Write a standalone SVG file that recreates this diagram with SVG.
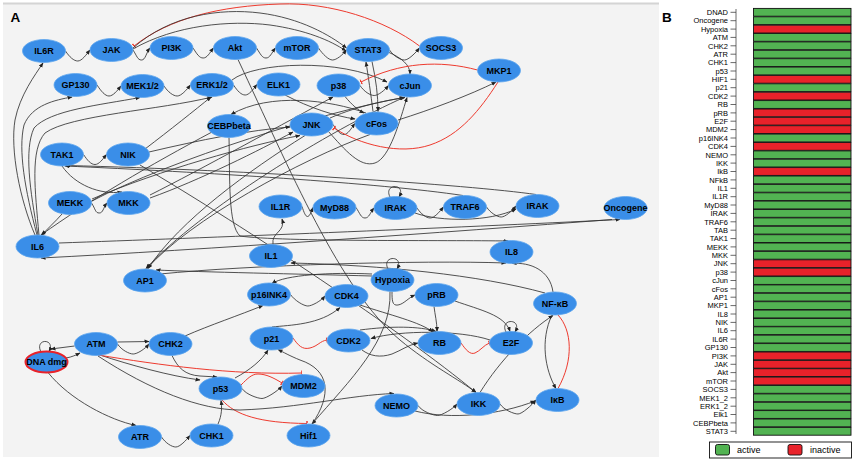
<svg xmlns="http://www.w3.org/2000/svg" width="856" height="461" viewBox="0 0 856 461">
<style>
.bg{fill:#f3f3f3}
.n ellipse{fill:#3a8ee8;stroke:#5ea6ee;stroke-width:0.8}
.n text{font-family:"Liberation Sans",Arial,sans-serif;font-weight:bold;font-size:9px;fill:#000;text-anchor:middle}
.e{fill:none;stroke:#333;stroke-width:0.85;marker-end:url(#a)}
.p{fill:none;stroke:#333;stroke-width:0.85}
.r{fill:none;stroke:#ee3a2e;stroke-width:1;marker-end:url(#t)}
.rp{fill:none;stroke:#ee3a2e;stroke-width:1}
.lab{font-family:"Liberation Sans",Arial,sans-serif;font-size:7.5px;fill:#000;text-anchor:end}
.g{fill:#52b352;stroke:#111;stroke-width:0.9}
.rd{fill:#e8222a;stroke:#111;stroke-width:0.9}
.tk{stroke:#444;stroke-width:0.8}
.hd{font-family:"Liberation Sans",Arial,sans-serif;font-weight:bold;font-size:13.5px;fill:#000}
</style>
<defs>
<marker id="a" viewBox="0 0 10 10" refX="9" refY="5" markerWidth="5" markerHeight="5" orient="auto" markerUnits="userSpaceOnUse"><path d="M0,1 L10,5 L0,9 z" fill="#222"/></marker>
<marker id="t" viewBox="0 0 4 10" refX="3" refY="5" markerWidth="2" markerHeight="6" orient="auto" markerUnits="userSpaceOnUse"><path d="M3,0 V10" stroke="#ee3a2e" stroke-width="3"/></marker>
</defs>
<rect x="0" y="0" width="856" height="461" fill="#fff"/>
<rect class="bg" x="3" y="3" width="656" height="454"/>
<rect x="3" y="2.5" width="656" height="2" fill="#d4d4d4"/>
<text class="hd" x="10.5" y="21.5">A</text>
<text class="hd" x="662" y="21.5">B</text>

<g id="connectors">
<!-- squiggle chains -->
<path class="e" d="M65.5,51 C69.5,57 73.8,61 77.8,61 C81.8,61 86,55 90,50"/>
<path class="e" d="M133,50 C137,56 137.5,60 141.5,60 C145.5,60 146,53 150,48"/>
<path class="e" d="M193,48 C197,54 199.2,58 203.2,58 C207.2,58 209.5,53 213.5,48"/>
<path class="e" d="M256.5,48 C260.5,54 262,58 266,58 C270,58 271.5,53 275.5,48"/>
<path class="e" d="M318.5,48 C322.5,54 328.5,60 332.5,60 C336.5,60 342.5,55 346.5,50"/>
<path class="e" d="M389.5,50 C393.5,56 400.5,60 404.5,60 C408.5,60 415.5,53 419.5,48"/>
<path class="e" d="M97,85 C101,91 105,96 109,96 C113,96 117,91 121,86"/>
<path class="e" d="M164,86 C168,92 173.2,96 177.2,96 C181.2,96 186.5,90 190.5,85"/>
<path class="e" d="M233.5,85 C237.5,91 241.2,95 245.2,95 C249.2,95 253,89.5 257,84.5"/>
<path class="e" d="M360,85.5 C364,91.5 370.2,95.5 374.2,95.5 C378.2,95.5 384.5,90.5 388.5,85.5"/>
<path class="e" d="M333,124.5 C337,130.5 340,134.5 344,134.5 C348,134.5 351,128.5 355,123.5"/>
<path class="e" d="M83.5,154.5 C87.5,160.5 91,164.5 95,164.5 C99,164.5 102.5,159.5 106.5,154.5"/>
<path class="e" d="M91.5,203 C95.5,209 95.2,213 99.2,213 C103.2,213 103,208 107,203"/>
<path class="e" d="M302,206.5 C304,212.5 305.5,216.5 307.5,216.5 C309.5,216.5 311,212.5 313,207.5"/>
<path class="e" d="M356,207.5 C360,213.5 361,218 365,218 C369,218 370,213 374,208"/>
<path class="e" d="M417,208 C421,214 426.2,218 430.2,218 C434.2,218 439.5,212 443.5,207"/>
<path class="e" d="M486.5,207 C490.5,213 497.2,217 501.2,217 C505.2,217 512,211 516,206"/>
<path class="e" d="M117.5,344 C121.5,350 129.2,354 133.2,354 C137.2,354 145,349 149,344"/>
<path class="e" d="M117.5,342 L149,341.5"/>
<path class="e" d="M161.5,437 C165.5,443 171.8,447 175.8,447 C179.8,447 186,440.5 190,435.5"/>
<path class="e" d="M242,388.5 C246,394.5 258,398.5 262,398.5 C266,398.5 278,391 282,386"/>
<path class="e" d="M500,404 C504,410 514,414 518,414 C522,414 532,405 536,400"/>
<path class="e" d="M418,405.5 C422,411.5 433.5,415.5 437.5,415.5 C441.5,415.5 453,409 457,404"/>
<path class="e" d="M290.5,294.5 C294.5,300.5 303.8,306 307.8,306 C311.8,306 321,301 325,296"/>
<path class="e" d="M392,291.5 C392,300 392,306 398,305 C404,304 408,298 415,295"/>
<path class="e" d="M362,350 C370,356 380,358 392,354 C402,350 408,345 418,343"/>
<path class="r" d="M461,343 C466,350 470,355 475,353 C480,351 484,345 489.5,343"/>
<path class="r" d="M293,338 C298,345 302,350 310,348 C318,346 320,341 327,340"/>
<!-- self loops -->
<path class="e" d="M41,352 C34,338 56,338 49,351.5"/>
<path class="e" d="M506,332 C499,318 523,318 515,332"/>
<path class="e" d="M388,269 C381,255 405,255 397,269"/>
<path class="e" d="M390,197 C383,183 407,183 399,197"/>
<!-- top arcs -->
<path class="r" d="M419.5,46 C385,20 330,2 280,4 C220,6 170,18 134,46"/>
<path class="e" d="M133,48 C170,15 220,8 260,13 C300,18 330,35 346.5,48"/>
<path class="e" d="M133,49 C175,25 230,20 270,25 C305,30 330,40 346,51"/>
<path class="e" d="M232,80 C255,62 340,58 387,82"/>
<path class="e" d="M373,111.5 C371,95 368,75 366,62"/>
<path class="e" d="M372,61.5 C376,80 378,95 378,111.5"/>
<path class="e" d="M388,52 C402,58 410,65 410,74"/>
<path class="e" d="M345,96.5 C352,105 358,110 364,113"/>
<path class="e" d="M285,95 C310,108 335,116 355,119"/>
<path class="e" d="M366,113 C330,100 270,92 231,114.5"/>
<path class="e" d="M330,118 C360,105 390,100 405,97.5"/>
<path class="e" d="M328,131 C345,150 360,168 375,163 C390,158 400,120 407,97.5"/>
<path class="r" d="M477.5,70 C440,60 400,62 361,82"/>
<path class="r" d="M498,82 C480,110 460,135 430,145 C400,155 360,145 334,128"/>
<path class="e" d="M398,120 C430,110 470,95 496,82"/>
<!-- IL6 fan -->
<path class="e" d="M35,235 C20,200 10,150 15,120 C20,95 35,75 43,63"/>
<path class="e" d="M37,235 C25,190 18,150 24,125 C32,105 55,100 72,97"/>
<path class="e" d="M38,235 C30,190 24,150 34,128 C50,110 100,105 140,97.5"/>
<path class="e" d="M39,235 C35,190 30,150 45,133 C70,115 160,110 212,97"/>
<path class="e" d="M212,132 C150,165 90,200 41,235"/>
<path class="e" d="M62,214 C55,222 47,229 42,235"/>
<!-- NIK / TAK1 / MEKK / MKK -->
<path class="e" d="M145,149 C170,130 195,110 211,97"/>
<path class="e" d="M62,166 C75,185 100,195 122,192"/>
<path class="e" d="M463,195.5 C380,183 200,172 65,166"/>
<path class="e" d="M536,194.5 C470,185 250,170 66,165.5"/>
<path class="e" d="M92,199 C160,170 250,145 300,135.5"/>
<path class="e" d="M150,195 C200,170 290,120 333,97"/>
<path class="e" d="M150,198 C200,180 260,150 293,132"/>
<path class="e" d="M92,201 C170,160 330,110 404,97.5"/>
<path class="e" d="M149,152 C200,140 250,130 290,127"/>
<path class="e" d="M140,165 C250,230 400,330 476,392.5"/>
<path class="e" d="M238,59.5 C290,170 340,290 400,340 C430,365 460,380 476,392.5"/>
<path class="e" d="M415,213 C440,222 490,222 516,209"/>
<!-- AP1 -->
<path class="e" d="M405,97 C330,130 200,210 146,268.5"/>
<path class="e" d="M370,134.5 C300,160 190,220 147,268.5"/>
<path class="e" d="M305,135.5 C250,170 180,220 148,268.5"/>
<path class="e" d="M372,276 C300,274 200,272 156,270"/>
<path class="e" d="M160,274 C250,265 420,260 506,263"/>
<!-- cytokines -->
<path class="e" d="M229,137.5 C230,180 228,225 240,236 C280,242 450,240 508,241"/>
<path class="e" d="M59,243 C200,238 450,228 620,219.5"/>
<path class="e" d="M612,219.5 C450,232 200,250 41,258"/>
<path class="e" d="M553,292 C550,270 530,262 512,263.5"/>
<path class="e" d="M545,293 C480,275 380,265 291,263"/>
<path class="e" d="M273,244.5 C271,232 286,232 282,219"/>
<!-- hypoxia / cell cycle -->
<path class="e" d="M390,291.5 C392,340 350,380 312,424"/>
<path class="e" d="M372,274 C330,272 285,275 272,283.5"/>
<path class="e" d="M434,306.5 C435,315 437,322 437,331.5"/>
<path class="e" d="M360,330 C390,326 420,326 436,331.5"/>
<path class="e" d="M490,340 C460,330 400,330 371,338.5"/>
<path class="e" d="M455,301 C480,310 505,315 510,331.5"/>
<path class="e" d="M360,305 C390,315 420,322 433,332"/>
<path class="e" d="M272,327 C290,325 320,325 340,307.5"/>
<path class="e" d="M185,336 C210,325 240,315 263,305.5"/>
<!-- NF-kB module -->
<path class="e" d="M480,392.5 C500,360 530,330 553,315.5"/>
<path class="e" d="M552,315 C540,340 545,370 556,388.5"/>
<path class="rp" d="M558,388.5 C574,360 572,330 558,315"/>
<path class="e" d="M415,411 C450,420 500,415 535,401"/>
<!-- DNA damage module -->
<path class="e" d="M48,372.5 C70,400 110,420 136,425.5"/>
<path class="e" d="M66,358 C72,357 76,355 80,353"/>
<path class="e" d="M74.5,346 L51,349"/>
<path class="e" d="M218,424 C222,415 222,407 221,400.5"/>
<path class="e" d="M172,355.5 C178,368 185,375 200,376 L217,377"/>
<path class="e" d="M100,355 C130,365 170,376 200,380"/>
<path class="r" d="M98,355 C160,365 230,375 302,373"/>
<path class="r" d="M241,385 C248,378 252,374 258,374 C266,374 274,378 282,383"/>
<path class="r" d="M222,400 C235,415 260,423 307,423.5"/>
<path class="e" d="M98,356 C150,390 200,410 240,410 C300,408 350,395 394,393.5"/>
<path class="e" d="M235,378 C250,370 262,360 268,350"/>
<path class="e" d="M312,424 C332,395 330,370 300,360 C290,356 283,352 278,349.5"/>
</g>

<g id="n-IL6R" class="n"><ellipse cx="44" cy="51" rx="21.5" ry="11.5"/><text x="44" y="54.2">IL6R</text></g>
<g id="n-JAK" class="n"><ellipse cx="111.5" cy="50" rx="21.5" ry="11.5"/><text x="111.5" y="53.2">JAK</text></g>
<g id="n-PI3K" class="n"><ellipse cx="171.5" cy="48" rx="21.5" ry="11.5"/><text x="171.5" y="51.2">PI3K</text></g>
<g id="n-Akt" class="n"><ellipse cx="235" cy="48" rx="21.5" ry="11.5"/><text x="235" y="51.2">Akt</text></g>
<g id="n-mTOR" class="n"><ellipse cx="297" cy="48" rx="21.5" ry="11.5"/><text x="297" y="51.2">mTOR</text></g>
<g id="n-STAT3" class="n"><ellipse cx="368" cy="50" rx="21.5" ry="11.5"/><text x="368" y="53.2">STAT3</text></g>
<g id="n-SOCS3" class="n"><ellipse cx="441" cy="48" rx="21.5" ry="11.5"/><text x="441" y="51.2">SOCS3</text></g>
<g id="n-MKP1" class="n"><ellipse cx="499" cy="70.5" rx="21.5" ry="11.5"/><text x="499" y="73.7">MKP1</text></g>
<g id="n-GP130" class="n"><ellipse cx="75.5" cy="85" rx="21.5" ry="11.5"/><text x="75.5" y="88.2">GP130</text></g>
<g id="n-MEK12" class="n"><ellipse cx="142.5" cy="86" rx="21.5" ry="11.5"/><text x="142.5" y="89.2">MEK1/2</text></g>
<g id="n-ERK12" class="n"><ellipse cx="212" cy="85" rx="21.5" ry="11.5"/><text x="212" y="88.2">ERK1/2</text></g>
<g id="n-ELK1" class="n"><ellipse cx="278.5" cy="84.5" rx="21.5" ry="11.5"/><text x="278.5" y="87.7">ELK1</text></g>
<g id="n-p38" class="n"><ellipse cx="338.5" cy="85.5" rx="21.5" ry="11.5"/><text x="338.5" y="88.7">p38</text></g>
<g id="n-cJun" class="n"><ellipse cx="410" cy="85.5" rx="21.5" ry="11.5"/><text x="410" y="88.7">cJun</text></g>
<g id="n-CEBPbeta" class="n"><ellipse cx="229" cy="126" rx="21.5" ry="11.5"/><text x="229" y="129.2">CEBPbeta</text></g>
<g id="n-JNK" class="n"><ellipse cx="311.5" cy="124.5" rx="21.5" ry="11.5"/><text x="311.5" y="127.7">JNK</text></g>
<g id="n-cFos" class="n"><ellipse cx="376.5" cy="123.5" rx="21.5" ry="11.5"/><text x="376.5" y="126.7">cFos</text></g>
<g id="n-TAK1" class="n"><ellipse cx="62" cy="154.5" rx="21.5" ry="11.5"/><text x="62" y="157.7">TAK1</text></g>
<g id="n-NIK" class="n"><ellipse cx="128" cy="154.5" rx="21.5" ry="11.5"/><text x="128" y="157.7">NIK</text></g>
<g id="n-MEKK" class="n"><ellipse cx="70" cy="203" rx="21.5" ry="11.5"/><text x="70" y="206.2">MEKK</text></g>
<g id="n-MKK" class="n"><ellipse cx="128.5" cy="203" rx="21.5" ry="11.5"/><text x="128.5" y="206.2">MKK</text></g>
<g id="n-IL6" class="n"><ellipse cx="37.5" cy="246.5" rx="21.5" ry="11.5"/><text x="37.5" y="249.7">IL6</text></g>
<g id="n-AP1" class="n"><ellipse cx="145" cy="280.5" rx="21.5" ry="11.5"/><text x="145" y="283.7">AP1</text></g>
<g id="n-IL1R" class="n"><ellipse cx="280.5" cy="206.5" rx="21.5" ry="11.5"/><text x="280.5" y="209.7">IL1R</text></g>
<g id="n-MyD88" class="n"><ellipse cx="334.5" cy="207.5" rx="21.5" ry="11.5"/><text x="334.5" y="210.7">MyD88</text></g>
<g id="n-IRAK1" class="n"><ellipse cx="395.5" cy="208" rx="21.5" ry="11.5"/><text x="395.5" y="211.2">IRAK</text></g>
<g id="n-TRAF6" class="n"><ellipse cx="465" cy="207" rx="21.5" ry="11.5"/><text x="465" y="210.2">TRAF6</text></g>
<g id="n-IRAK2" class="n"><ellipse cx="537.5" cy="206" rx="21.5" ry="11.5"/><text x="537.5" y="209.2">IRAK</text></g>
<g id="n-Oncogene" class="n"><ellipse cx="625.5" cy="208" rx="21.5" ry="11.5"/><text x="625.5" y="211.2">Oncogene</text></g>
<g id="n-IL1" class="n"><ellipse cx="271" cy="256" rx="21.5" ry="11.5"/><text x="271" y="259.2">IL1</text></g>
<g id="n-IL8" class="n"><ellipse cx="511.5" cy="252" rx="21.5" ry="11.5"/><text x="511.5" y="255.2">IL8</text></g>
<g id="n-Hypoxia" class="n"><ellipse cx="392.5" cy="280" rx="21.5" ry="11.5"/><text x="392.5" y="283.2">Hypoxia</text></g>
<g id="n-p16INK4" class="n"><ellipse cx="269" cy="294.5" rx="21.5" ry="11.5"/><text x="269" y="297.7">p16INK4</text></g>
<g id="n-CDK4" class="n"><ellipse cx="346.5" cy="296" rx="21.5" ry="11.5"/><text x="346.5" y="299.2">CDK4</text></g>
<g id="n-pRB" class="n"><ellipse cx="436.5" cy="295" rx="21.5" ry="11.5"/><text x="436.5" y="298.2">pRB</text></g>
<g id="n-NFkB" class="n"><ellipse cx="555" cy="303.5" rx="21.5" ry="11.5"/><text x="555" y="306.7">NF-κB</text></g>
<g id="n-E2F" class="n"><ellipse cx="511" cy="343" rx="21.5" ry="11.5"/><text x="511" y="346.2">E2F</text></g>
<g id="n-RB" class="n"><ellipse cx="439.5" cy="343" rx="21.5" ry="11.5"/><text x="439.5" y="346.2">RB</text></g>
<g id="n-CDK2" class="n"><ellipse cx="348.5" cy="340.5" rx="21.5" ry="11.5"/><text x="348.5" y="343.7">CDK2</text></g>
<g id="n-p21" class="n"><ellipse cx="271.5" cy="338.5" rx="21.5" ry="11.5"/><text x="271.5" y="341.7">p21</text></g>
<g id="n-MDM2" class="n"><ellipse cx="303.5" cy="386" rx="21.5" ry="11.5"/><text x="303.5" y="389.2">MDM2</text></g>
<g id="n-p53" class="n"><ellipse cx="220.5" cy="388.5" rx="21.5" ry="11.5"/><text x="220.5" y="391.7">p53</text></g>
<g id="n-NEMO" class="n"><ellipse cx="396.5" cy="405.5" rx="21.5" ry="11.5"/><text x="396.5" y="408.7">NEMO</text></g>
<g id="n-IKK" class="n"><ellipse cx="478.5" cy="404" rx="21.5" ry="11.5"/><text x="478.5" y="407.2">IKK</text></g>
<g id="n-IkB" class="n"><ellipse cx="557.5" cy="400" rx="21.5" ry="11.5"/><text x="557.5" y="403.2">IκB</text></g>
<g id="n-Hif1" class="n"><ellipse cx="308.5" cy="435.5" rx="21.5" ry="11.5"/><text x="308.5" y="438.7">Hif1</text></g>
<g id="n-ATM" class="n"><ellipse cx="96" cy="344" rx="21.5" ry="11.5"/><text x="96" y="347.2">ATM</text></g>
<g id="n-CHK2" class="n"><ellipse cx="170.5" cy="344" rx="21.5" ry="11.5"/><text x="170.5" y="347.2">CHK2</text></g>
<g id="n-DNAdmg" class="n"><ellipse cx="46.5" cy="362" rx="21" ry="10.5" style="stroke:#e8222a;stroke-width:2"/><text x="46.5" y="365.2">DNA dmg</text></g>
<g id="n-ATR" class="n"><ellipse cx="140" cy="437" rx="21.5" ry="11.5"/><text x="140" y="440.2">ATR</text></g>
<g id="n-CHK1" class="n"><ellipse cx="211.5" cy="435.5" rx="21.5" ry="11.5"/><text x="211.5" y="438.7">CHK1</text></g>

<g id="panelB">
<line class="tk" x1="736" y1="9" x2="736" y2="434"/>
<g id="bars">
<rect class="g" x="753.5" y="8.4" width="97.5" height="7.8"/>
<rect class="g" x="753.5" y="16.8" width="97.5" height="7.8"/>
<rect class="rd" x="753.5" y="25.2" width="97.5" height="7.8"/>
<rect class="g" x="753.5" y="33.5" width="97.5" height="7.8"/>
<rect class="g" x="753.5" y="41.9" width="97.5" height="7.8"/>
<rect class="g" x="753.5" y="50.3" width="97.5" height="7.8"/>
<rect class="g" x="753.5" y="58.7" width="97.5" height="7.8"/>
<rect class="g" x="753.5" y="67.1" width="97.5" height="7.8"/>
<rect class="rd" x="753.5" y="75.4" width="97.5" height="7.8"/>
<rect class="g" x="753.5" y="83.8" width="97.5" height="7.8"/>
<rect class="rd" x="753.5" y="92.2" width="97.5" height="7.8"/>
<rect class="g" x="753.5" y="100.6" width="97.5" height="7.8"/>
<rect class="rd" x="753.5" y="109" width="97.5" height="7.8"/>
<rect class="rd" x="753.5" y="117.3" width="97.5" height="7.8"/>
<rect class="rd" x="753.5" y="125.7" width="97.5" height="7.8"/>
<rect class="g" x="753.5" y="134.1" width="97.5" height="7.8"/>
<rect class="rd" x="753.5" y="142.5" width="97.5" height="7.8"/>
<rect class="g" x="753.5" y="150.9" width="97.5" height="7.8"/>
<rect class="g" x="753.5" y="159.2" width="97.5" height="7.8"/>
<rect class="rd" x="753.5" y="167.6" width="97.5" height="7.8"/>
<rect class="g" x="753.5" y="176" width="97.5" height="7.8"/>
<rect class="g" x="753.5" y="184.4" width="97.5" height="7.8"/>
<rect class="g" x="753.5" y="192.8" width="97.5" height="7.8"/>
<rect class="g" x="753.5" y="201.1" width="97.5" height="7.8"/>
<rect class="g" x="753.5" y="209.5" width="97.5" height="7.8"/>
<rect class="g" x="753.5" y="217.9" width="97.5" height="7.8"/>
<rect class="g" x="753.5" y="226.3" width="97.5" height="7.8"/>
<rect class="g" x="753.5" y="234.7" width="97.5" height="7.8"/>
<rect class="g" x="753.5" y="243" width="97.5" height="7.8"/>
<rect class="g" x="753.5" y="251.4" width="97.5" height="7.8"/>
<rect class="rd" x="753.5" y="259.8" width="97.5" height="7.8"/>
<rect class="rd" x="753.5" y="268.2" width="97.5" height="7.8"/>
<rect class="g" x="753.5" y="276.6" width="97.5" height="7.8"/>
<rect class="g" x="753.5" y="284.9" width="97.5" height="7.8"/>
<rect class="g" x="753.5" y="293.3" width="97.5" height="7.8"/>
<rect class="g" x="753.5" y="301.7" width="97.5" height="7.8"/>
<rect class="g" x="753.5" y="310.1" width="97.5" height="7.8"/>
<rect class="g" x="753.5" y="318.5" width="97.5" height="7.8"/>
<rect class="g" x="753.5" y="326.8" width="97.5" height="7.8"/>
<rect class="g" x="753.5" y="335.2" width="97.5" height="7.8"/>
<rect class="g" x="753.5" y="343.6" width="97.5" height="7.8"/>
<rect class="rd" x="753.5" y="352" width="97.5" height="7.8"/>
<rect class="rd" x="753.5" y="360.4" width="97.5" height="7.8"/>
<rect class="rd" x="753.5" y="368.7" width="97.5" height="7.8"/>
<rect class="rd" x="753.5" y="377.1" width="97.5" height="7.8"/>
<rect class="g" x="753.5" y="385.5" width="97.5" height="7.8"/>
<rect class="g" x="753.5" y="393.9" width="97.5" height="7.8"/>
<rect class="g" x="753.5" y="402.3" width="97.5" height="7.8"/>
<rect class="g" x="753.5" y="410.6" width="97.5" height="7.8"/>
<rect class="g" x="753.5" y="419" width="97.5" height="7.8"/>
<rect class="g" x="753.5" y="427.4" width="97.5" height="7.8"/>
</g>
<g id="ticks" class="tk">
<line x1="730.5" y1="12.3" x2="736" y2="12.3"/><line x1="730.5" y1="20.7" x2="736" y2="20.7"/><line x1="730.5" y1="29.1" x2="736" y2="29.1"/><line x1="730.5" y1="37.4" x2="736" y2="37.4"/><line x1="730.5" y1="45.8" x2="736" y2="45.8"/><line x1="730.5" y1="54.2" x2="736" y2="54.2"/><line x1="730.5" y1="62.6" x2="736" y2="62.6"/><line x1="730.5" y1="71" x2="736" y2="71"/><line x1="730.5" y1="79.3" x2="736" y2="79.3"/><line x1="730.5" y1="87.7" x2="736" y2="87.7"/><line x1="730.5" y1="96.1" x2="736" y2="96.1"/><line x1="730.5" y1="104.5" x2="736" y2="104.5"/><line x1="730.5" y1="112.9" x2="736" y2="112.9"/><line x1="730.5" y1="121.2" x2="736" y2="121.2"/><line x1="730.5" y1="129.6" x2="736" y2="129.6"/><line x1="730.5" y1="138" x2="736" y2="138"/><line x1="730.5" y1="146.4" x2="736" y2="146.4"/><line x1="730.5" y1="154.8" x2="736" y2="154.8"/><line x1="730.5" y1="163.1" x2="736" y2="163.1"/><line x1="730.5" y1="171.5" x2="736" y2="171.5"/><line x1="730.5" y1="179.9" x2="736" y2="179.9"/><line x1="730.5" y1="188.3" x2="736" y2="188.3"/><line x1="730.5" y1="196.7" x2="736" y2="196.7"/><line x1="730.5" y1="205" x2="736" y2="205"/><line x1="730.5" y1="213.4" x2="736" y2="213.4"/><line x1="730.5" y1="221.8" x2="736" y2="221.8"/><line x1="730.5" y1="230.2" x2="736" y2="230.2"/><line x1="730.5" y1="238.6" x2="736" y2="238.6"/><line x1="730.5" y1="246.9" x2="736" y2="246.9"/><line x1="730.5" y1="255.3" x2="736" y2="255.3"/><line x1="730.5" y1="263.7" x2="736" y2="263.7"/><line x1="730.5" y1="272.1" x2="736" y2="272.1"/><line x1="730.5" y1="280.5" x2="736" y2="280.5"/><line x1="730.5" y1="288.8" x2="736" y2="288.8"/><line x1="730.5" y1="297.2" x2="736" y2="297.2"/><line x1="730.5" y1="305.6" x2="736" y2="305.6"/><line x1="730.5" y1="314" x2="736" y2="314"/><line x1="730.5" y1="322.4" x2="736" y2="322.4"/><line x1="730.5" y1="330.7" x2="736" y2="330.7"/><line x1="730.5" y1="339.1" x2="736" y2="339.1"/><line x1="730.5" y1="347.5" x2="736" y2="347.5"/><line x1="730.5" y1="355.9" x2="736" y2="355.9"/><line x1="730.5" y1="364.3" x2="736" y2="364.3"/><line x1="730.5" y1="372.6" x2="736" y2="372.6"/><line x1="730.5" y1="381" x2="736" y2="381"/><line x1="730.5" y1="389.4" x2="736" y2="389.4"/><line x1="730.5" y1="397.8" x2="736" y2="397.8"/><line x1="730.5" y1="406.2" x2="736" y2="406.2"/><line x1="730.5" y1="414.5" x2="736" y2="414.5"/><line x1="730.5" y1="422.9" x2="736" y2="422.9"/><line x1="730.5" y1="431.3" x2="736" y2="431.3"/>
</g>
<g id="labels">
<text class="lab" x="728" y="15">DNAD</text>
<text class="lab" x="728" y="23.4">Oncogene</text>
<text class="lab" x="728" y="31.8">Hypoxia</text>
<text class="lab" x="728" y="40.1">ATM</text>
<text class="lab" x="728" y="48.5">CHK2</text>
<text class="lab" x="728" y="56.9">ATR</text>
<text class="lab" x="728" y="65.3">CHK1</text>
<text class="lab" x="728" y="73.7">p53</text>
<text class="lab" x="728" y="82">HIF1</text>
<text class="lab" x="728" y="90.4">p21</text>
<text class="lab" x="728" y="98.8">CDK2</text>
<text class="lab" x="728" y="107.2">RB</text>
<text class="lab" x="728" y="115.6">pRB</text>
<text class="lab" x="728" y="123.9">E2F</text>
<text class="lab" x="728" y="132.3">MDM2</text>
<text class="lab" x="728" y="140.7">p16INK4</text>
<text class="lab" x="728" y="149.1">CDK4</text>
<text class="lab" x="728" y="157.5">NEMO</text>
<text class="lab" x="728" y="165.8">IKK</text>
<text class="lab" x="728" y="174.2">IkB</text>
<text class="lab" x="728" y="182.6">NFkB</text>
<text class="lab" x="728" y="191">IL1</text>
<text class="lab" x="728" y="199.4">IL1R</text>
<text class="lab" x="728" y="207.7">MyD88</text>
<text class="lab" x="728" y="216.1">IRAK</text>
<text class="lab" x="728" y="224.5">TRAF6</text>
<text class="lab" x="728" y="232.9">TAB</text>
<text class="lab" x="728" y="241.3">TAK1</text>
<text class="lab" x="728" y="249.6">MEKK</text>
<text class="lab" x="728" y="258">MKK</text>
<text class="lab" x="728" y="266.4">JNK</text>
<text class="lab" x="728" y="274.8">p38</text>
<text class="lab" x="728" y="283.2">cJun</text>
<text class="lab" x="728" y="291.5">cFos</text>
<text class="lab" x="728" y="299.9">AP1</text>
<text class="lab" x="728" y="308.3">MKP1</text>
<text class="lab" x="728" y="316.7">IL8</text>
<text class="lab" x="728" y="325.1">NIK</text>
<text class="lab" x="728" y="333.4">IL6</text>
<text class="lab" x="728" y="341.8">IL6R</text>
<text class="lab" x="728" y="350.2">GP130</text>
<text class="lab" x="728" y="358.6">PI3K</text>
<text class="lab" x="728" y="367">JAK</text>
<text class="lab" x="728" y="375.3">Akt</text>
<text class="lab" x="728" y="383.7">mTOR</text>
<text class="lab" x="728" y="392.1">SOCS3</text>
<text class="lab" x="728" y="400.5">MEK1_2</text>
<text class="lab" x="728" y="408.9">ERK1_2</text>
<text class="lab" x="728" y="417.2">Elk1</text>
<text class="lab" x="728" y="425.6">CEBPbeta</text>
<text class="lab" x="728" y="434">STAT3</text>
</g>
<g id="legend">
<rect x="709.5" y="442" width="142" height="16" fill="#fff" stroke="#111" stroke-width="0.9"/>
<rect class="g" x="715.5" y="444.5" width="14" height="10.5" rx="2"/>
<text x="737" y="453" style="font-family:'Liberation Sans',Arial,sans-serif;font-size:9px">active</text>
<rect class="rd" x="788" y="444.5" width="14" height="10.5" rx="2"/>
<text x="810" y="453" style="font-family:'Liberation Sans',Arial,sans-serif;font-size:9px">inactive</text>
</g>
</g>
</svg>
